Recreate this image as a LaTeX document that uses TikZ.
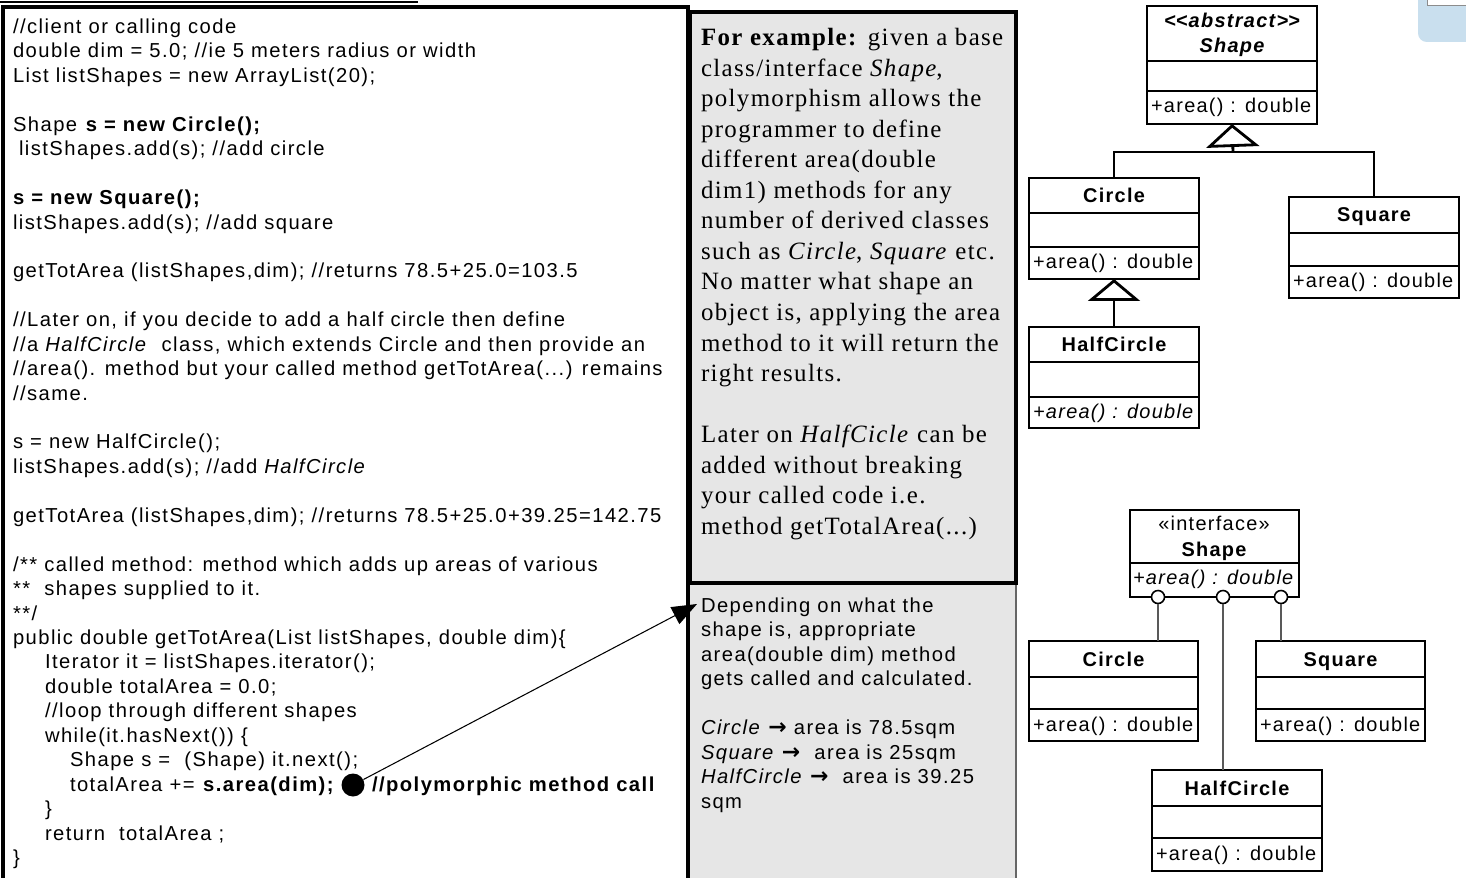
\documentclass[tikz,border=0pt]{standalone}
\usepackage{fontspec}
\setmainfont{Liberation Sans}[LetterSpace=6.5]
\newfontfamily\codeft{Liberation Sans}[LetterSpace=7.2]
\newfontfamily\serifft{Liberation Serif}[LetterSpace=5.5]
\newfontfamily\symft{DejaVu Sans}
\usetikzlibrary{arrows.meta,fit}
\definecolor{panelgray}{HTML}{E6E6E6}
\definecolor{widgetblue}{HTML}{C9DFEE}
\tikzset{
  codetxt/.style={inner sep=0pt, outer sep=0pt, font=\codeft\fontsize{11.5}{13.86}\selectfont},
  sertxt/.style={inner sep=0pt, outer sep=0pt, font=\serifft\fontsize{14.17}{17.3}\selectfont},
  umlframe/.style={draw, line width=1.6pt, inner sep=0pt, outer sep=0pt},
  umlline/.style={line width=1.6pt},
  umltitle/.style={inner sep=0pt, outer sep=0pt, font=\bfseries\fontsize{11.34}{13.86}\selectfont},
  umltext/.style={inner sep=0pt, outer sep=0pt, font=\fontsize{11.34}{13.86}\selectfont},
  inh/.style={-{Triangle[length=0.46cm,width=1.06cm,fill=white]}},
  inhb/.style={-{Triangle[length=0.44cm,width=1.04cm,fill=white]}},
  lolli/.style={circle, draw, fill=white, line width=0.9pt, inner sep=0pt, minimum size=0.26cm},
  lolline/.style={line width=0.9pt, draw=black!65},
  panel/.style={inner sep=0pt, outer sep=0pt}
}
\newcommand\rarr{{\symft\bfseries\fontsize{12.5}{13.86}\selectfont →}}
% code line: index, x offset, text
\newcommand\cl[3]{\node[codetxt, anchor=base west] (cl#1) at ({13+#2},{33.5+24.44*#1}) {#3};}
% serif line
\newcommand\mtl[2]{\node[sertxt, anchor=base west] (mt#1) at (701,{46+30.5*#1}) {#2};}
% lower sans line
\newcommand\dpl[2]{\node[codetxt, anchor=base west] (dp#1) at (701,{612.5+24.44*#1}) {#2};}
% uml class: name, x1, y1, x2, ya, yb, y2, title, method
\newcommand\umlbox[9]{%
  \node[umlframe, fit={(#2,#3) (#4,#7)}] (#1) {};
  \draw[umlline] (#2,#5) -- (#4,#5) (#2,#6) -- (#4,#6);
  \node[umltitle, anchor=base] (#1-t) at ({(#2+#4)/2},{(#3+#5)/2+7}) {#8};
  \node[umltext, anchor=base west] (#1-m) at ({#2+4},{(#6+#7)/2+6}) {#9};
}
\begin{document}
\begin{tikzpicture}[x=0.02cm,y=-0.02cm]
\useasboundingbox (0,0) rectangle (1466,878);
\clip (0,0) rectangle (1466,878);
% panels
\node[panel, fit={(689,583) (1016,900)}, draw=black!60, fill=panelgray, line width=0.6pt] (depend) {};
\node[panel, fit={(3,7) (688,900)}, draw, line width=1.8pt] (codebox) {};
\node[panel, fit={(690,12) (1016,583)}, draw, fill=panelgray, line width=1.8pt] (expl) {};
\draw[line width=0.6pt] (0,2) -- (418,2);
% widget top right
\fill[widgetblue, rounded corners=5pt] (1418,-10) rectangle (1480,42);
\draw[fill=white, draw=black!45, line width=0.5pt] (1427,-3) rectangle (1480,5);

% code
\cl{0}{0}{//client or calling code}
\cl{1}{0}{double dim = 5.0; //ie 5 meters radius or width}
\cl{2}{0}{List listShapes = new ArrayList(20);}
\cl{4}{0}{Shape \textbf{s = new Circle();}}
\cl{5}{6}{listShapes.add(s); //add circle}
\cl{7}{0}{\textbf{s = new Square();}}
\cl{8}{0}{listShapes.add(s); //add square}
\cl{10}{0}{getTotArea (listShapes,dim); //returns 78.5+25.0=103.5}
\cl{12}{0}{//Later on, if you decide to add a half circle then define}
\cl{13}{0}{//a \textit{HalfCircle}\ \ class, which extends Circle and then provide an}
\cl{14}{0}{//area(). method but your called method getTotArea(...) remains}
\cl{15}{0}{//same.}
\cl{17}{0}{s = new HalfCircle();}
\cl{18}{0}{listShapes.add(s); //add \textit{HalfCircle}}
\cl{20}{0}{getTotArea (listShapes,dim); //returns 78.5+25.0+39.25=142.75}
\cl{22}{0}{/** called method: method which adds up areas of various}
\cl{23}{0}{**\ \ shapes supplied to it.}
\cl{24}{0}{**/}
\cl{25}{0}{public double getTotArea(List listShapes, double dim)\{}
\cl{26}{32}{Iterator it = listShapes.iterator();}
\cl{27}{32}{double totalArea = 0.0;}
\cl{28}{32}{//loop through different shapes}
\cl{29}{32}{while(it.hasNext()) \{}
\cl{30}{57}{Shape s =\ \ (Shape) it.next();}
\cl{31}{57}{totalArea += \textbf{s.area(dim);}}
\cl{32}{32}{\}}
\cl{33}{32}{return\ \ totalArea ;}
\cl{34}{0}{\}}
\node[codetxt, anchor=base west, font=\codeft\bfseries\fontsize{11.5}{13.86}\selectfont] (poly) at (372,{33.5+24.44*31}) {//polymorphic method call};

% explanation
\mtl{0}{\textbf{For example:} given a base}
\mtl{1}{class/interface \textit{Shape},}
\mtl{2}{polymorphism allows the}
\mtl{3}{programmer to define}
\mtl{4}{different area(double}
\mtl{5}{dim1) methods for any}
\mtl{6}{number of derived classes}
\mtl{7}{such as \textit{Circle}, \textit{Square} etc.}
\mtl{8}{No matter what shape an}
\mtl{9}{object is, applying the area}
\mtl{10}{method to it will return the}
\mtl{11}{right results.}
\mtl{13}{Later on \textit{HalfCicle} can be}
\mtl{14}{added without breaking}
\mtl{15}{your called code i.e.}
\mtl{16}{method getTotalArea(...)}

\dpl{0}{Depending on what the}
\dpl{1}{shape is, appropriate}
\dpl{2}{area(double dim) method}
\dpl{3}{gets called and calculated.}
\dpl{5}{\textit{Circle} \rarr{} area is 78.5sqm}
\dpl{6}{\textit{Square} \rarr\ \ area is 25sqm}
\dpl{7}{\textit{HalfCircle} \rarr\ \ area is 39.25}
\dpl{8}{sqm}

% polymorphic call arrow
\node[circle, fill=black, inner sep=0pt, minimum size=0.46cm] (dot) at (353,785) {};
\coordinate (tip) at (697,604);
\draw[line width=0.6pt, -{Triangle[length=0.5cm,width=0.38cm]}] (dot) -- (tip);

% ---- top UML (abstract class)
\node[umlframe, fit={(1147,6) (1317,124)}] (ash) {};
\draw[umlline] (1147,61) -- (1317,61) (1147,91) -- (1317,91);
\node[umltitle, anchor=base, font=\bfseries\itshape\fontsize{11.34}{13.86}\selectfont] (ash-s) at (1232,27.5) {<\kern0pt<abstract>\kern0pt>};
\node[umltitle, anchor=base, font=\bfseries\itshape\fontsize{11.34}{13.86}\selectfont] (ash-t) at (1232,52.5) {Shape};
\node[umltext, anchor=base west] (ash-m) at (1151,113) {+area() : double};

\umlbox{circT}{1029}{178}{1199}{213}{247}{279}{Circle}{+area() : double}
\umlbox{halfT}{1029}{327}{1199}{362}{397}{428}{HalfCircle}{\textit{+area() : double}}
\umlbox{sqT}{1289}{197}{1459}{233}{266}{298}{Square}{+area() : double}

\coordinate (hub) at (1233,152);
\draw[umlline] (circT.north) |- (hub) -| (sqT.north);
\draw[umlline, inh] (hub) -- (ash.south);
\draw[umlline, inhb] (halfT.north) -- (circT.south);

% ---- bottom UML (interface)
\node[umlframe, fit={(1130,510) (1299,597)}] (ish) {};
\draw[umlline] (1130,563) -- (1299,563);
\node[umltext, anchor=base] (ish-s) at (1214,530) {«interface»};
\node[umltitle, anchor=base] (ish-t) at (1214,556) {Shape};
\node[umltext, anchor=base west] (ish-m) at (1133,584) {\textit{+area() : double}};

\umlbox{circB}{1029}{641}{1198}{677}{709}{741}{Circle}{+area() : double}
\umlbox{sqB}{1256}{641}{1425}{677}{709}{741}{Square}{+area() : double}
\umlbox{halfB}{1152}{770}{1322}{806}{838}{871}{HalfCircle}{+area() : double}

\node[lolli] (lo1) at (1158,597) {};
\node[lolli] (lo2) at (1223,597) {};
\node[lolli] (lo3) at (1281,597) {};
\draw[lolline] (lo1.south) -- (lo1.south |- circB.north);
\draw[lolline] (lo2.south) -- (lo2.south |- halfB.north);
\draw[lolline] (lo3.south) -- (lo3.south |- sqB.north);
\end{tikzpicture}
\end{document}
